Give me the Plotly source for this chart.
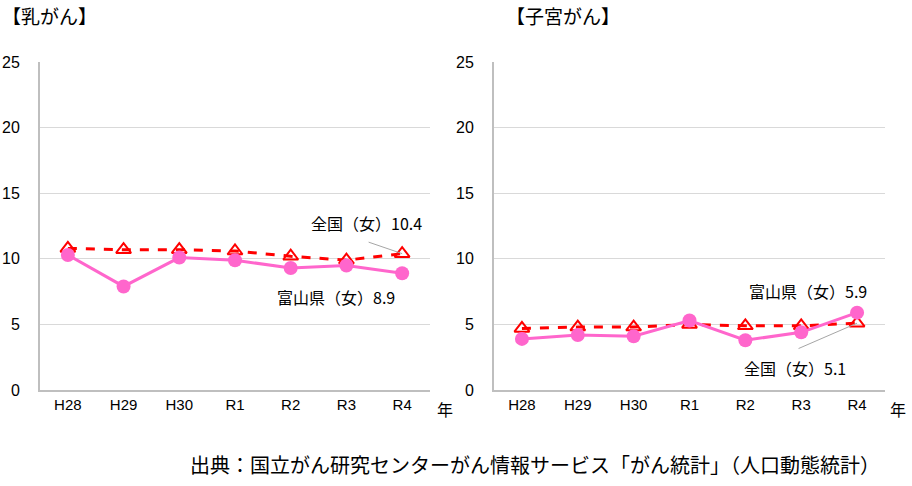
import plotly.graph_objects as go
from plotly.subplots import make_subplots

years = ["H28", "H29", "H30", "R1", "R2", "R3", "R4"]
breast_toyama = [10.3, 7.9, 10.1, 9.9, 9.3, 9.5, 8.9]
breast_national = [10.8, 10.7, 10.7, 10.6, 10.2, 9.9, 10.4]
uterus_toyama = [3.9, 4.2, 4.1, 5.3, 3.8, 4.4, 5.9]
uterus_national = [4.7, 4.8, 4.8, 5.0, 4.9, 4.9, 5.1]
y_ticks = [0, 5, 10, 15, 20, 25]

PINK = "#FF66CC"
RED = "#FF0000"
JP = "Noto Sans CJK JP"
NUM = "Liberation Sans Narrow, Arial Narrow, Liberation Sans, sans-serif"
W, H = 912, 486


def py(y_px):
    # vertical pixel (from top) -> paper fraction, compensating page offset
    y = y_px / 0.968 - 8
    return 1 - y / H


fig = make_subplots(rows=1, cols=2)

for col, (toy, nat) in enumerate([(breast_toyama, breast_national),
                                  (uterus_toyama, uterus_national)], start=1):
    fig.add_trace(go.Scatter(x=years, y=nat, mode="lines+markers",
                             line=dict(color=RED, width=3, dash="dash"),
                             marker=dict(symbol="triangle-up-open", size=13,
                                         color=RED, line=dict(width=2, color=RED)),
                             showlegend=False), row=1, col=col)
    fig.add_trace(go.Scatter(x=years, y=toy, mode="lines+markers",
                             line=dict(color=PINK, width=3),
                             marker=dict(symbol="circle", size=14, color=PINK),
                             showlegend=False), row=1, col=col)

xdom = [[40 / W, 430 / W], [494 / W, 885 / W]]
ydom = [py(391), py(62)]
for i in (1, 2):
    fig.update_xaxes(domain=xdom[i - 1], range=[-0.5, 6.5], showgrid=False,
                     showline=True, linecolor="#BFBFBF", linewidth=2,
                     tickfont=dict(family=NUM, size=15, color="#000"),
                     ticks="", row=1, col=i)
    fig.update_yaxes(domain=ydom, range=[0, 25], tickvals=y_ticks,
                     showgrid=True, gridcolor="#D9D9D9", gridwidth=1,
                     showline=True, linecolor="#BFBFBF", linewidth=2,
                     zeroline=False, ticklabelstandoff=15,
                     tickfont=dict(family=NUM, size=16, color="#000"),
                     ticks="", row=1, col=i)

ann = []
def txt(text, x, y, xref, yref, size=16, **kw):
    d = dict(text=text, x=x, y=y, xref=xref, yref=yref, showarrow=False,
             font=dict(family=JP, size=size, color="#000"))
    d.update(kw)
    ann.append(d)

# labels
txt("全国（女）10.4", years[6], breast_national[6], "x", "y",
    xanchor="center", yanchor="middle", xshift=-36, yshift=31)
txt("富山県（女）8.9", years[6], breast_toyama[6], "x", "y",
    xanchor="center", yanchor="middle", xshift=-66, yshift=-24)
txt("富山県（女）5.9", years[6], uterus_toyama[6], "x2", "y2",
    xanchor="center", yanchor="middle", xshift=-49, yshift=22)
txt("全国（女）5.1", years[6], uterus_national[6], "x2", "y2",
    xanchor="center", yanchor="middle", xshift=-62, yshift=-45)

# leader lines
ann.append(dict(text="", x=years[6], y=breast_national[6], xref="x", yref="y",
                showarrow=True, arrowhead=0, arrowwidth=1, arrowcolor="#A6A6A6",
                ax=-35, ay=-12, standoff=0))
ann.append(dict(text="", x=years[6], y=uterus_national[6], xref="x2", yref="y2",
                showarrow=True, arrowhead=0, arrowwidth=1, arrowcolor="#A6A6A6",
                ax=-60, ay=26, standoff=0))

# titles
txt("【乳がん】", 0 / W, py(15), "paper", "paper", size=19,
    xanchor="left", yanchor="middle")
txt("【子宮がん】", 504 / W, py(15), "paper", "paper", size=19,
    xanchor="left", yanchor="middle")
# year unit
txt("年", 445 / W, py(410), "paper", "paper", size=16,
    xanchor="center", yanchor="middle")
txt("年", 898 / W, py(410), "paper", "paper", size=16,
    xanchor="center", yanchor="middle")
# source
txt("出典：国立がん研究センターがん情報サービス「がん統計」（人口動態統計）",
    882 / W, py(466), "paper", "paper", size=20,
    xanchor="right", yanchor="middle")

fig.update_layout(width=W, height=H, margin=dict(l=0, r=0, t=0, b=0),
                  paper_bgcolor="white", plot_bgcolor="white",
                  annotations=ann)

css_js = (
    "var s=document.createElement('style');"
    "s.textContent='html,body{margin:0!important;padding:0!important;"
    "overflow:hidden;height:486px;}body>div{margin:0;padding:0;height:486px;overflow:hidden;}';"
    "document.head.appendChild(s);"
)

fig.write_html("out.html", config={"displayModeBar": False}, post_script=css_js)
